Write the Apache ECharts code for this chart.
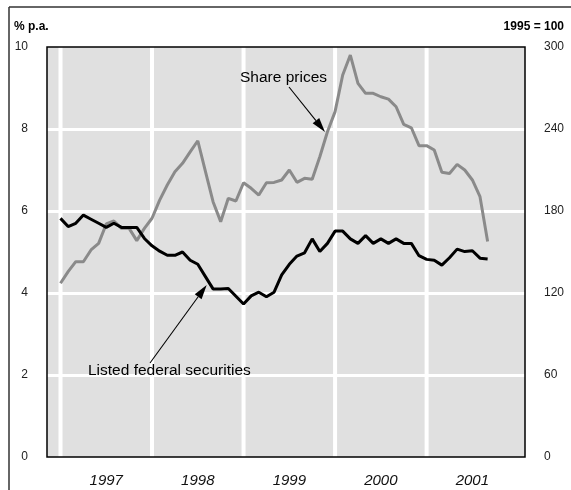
<!DOCTYPE html>
<html>
<head>
<meta charset="utf-8">
<script src="https://cdn.jsdelivr.net/npm/echarts@6/dist/echarts.min.js"></script>
<style>
html,body{margin:0;padding:0;background:#fff;}
#chart{width:571px;height:490px;}
</style>
</head>
<body>
<div id="chart"></div>
<script>
// Monthly observations, Jan 1997 (index 0) to Sep 2001 (index 56)
const federalYield = [5.82,5.62,5.70,5.90,5.80,5.70,5.60,5.70,5.60,5.60,5.60,5.33,
  5.15,5.02,4.92,4.92,5.00,4.80,4.70,4.40,4.10,4.10,4.11,3.92,
  3.73,3.93,4.02,3.91,4.02,4.44,4.70,4.90,4.98,5.32,5.01,5.21,
  5.51,5.51,5.32,5.21,5.40,5.21,5.32,5.21,5.32,5.21,5.21,4.91,
  4.82,4.80,4.68,4.86,5.07,5.01,5.03,4.85,4.83];
const sharePrices = [127.1,135.6,142.9,142.9,151.5,156.3,170.5,172.7,167.3,167.3,158.3,167.3,
  174.7,188.0,199.0,208.8,214.9,223.2,231.4,209.0,186.8,172.2,189.3,187.3,
  200.7,196.6,191.7,200.7,200.9,202.7,210.0,201.0,203.9,203.2,219.7,238.0,
  252.7,279.5,294.1,273.4,266.1,266.1,263.6,261.9,256.3,243.4,240.9,227.8,
  227.8,224.6,208.3,207.5,214.1,210.0,202.7,190.5,157.6];
const yearLabels = ['1997','1998','1999','2000','2001'];
const yearStarts = [0,12,24,36,48];      // month index where each year begins
const yearMids = [6,18,30,42,54];        // month index where each year label sits
const leftTicks = [0,2,4,6,8,10];
const rightTicks = [0,60,120,180,240,300];

const W = 571, H = 490;
const G = {left:47, top:47, right:46, bottom:33};
const FONT = '"Liberation Sans", Arial, Helvetica, sans-serif';

const chart = echarts.init(document.getElementById('chart'), null, {renderer:'canvas'});

function arrow(x1,y1,x2,y2){
  const dx=x2-x1, dy=y2-y1, L=Math.sqrt(dx*dx+dy*dy);
  const ux=dx/L, uy=dy/L, hl=14.5, hw=4.2;
  const bx=x2-ux*hl, by=y2-uy*hl;
  return [
    {type:'line', z:100, shape:{x1:x1,y1:y1,x2:bx,y2:by}, style:{stroke:'#000', lineWidth:1.1}},
    {type:'polygon', z:100, shape:{points:[[x2,y2],[bx-uy*hw,by+ux*hw],[bx+uy*hw,by-ux*hw]]}, style:{fill:'#000'}}
  ];
}

const option = {
  animation:false,
  backgroundColor:'#fff',
  grid:{left:G.left, top:G.top, right:G.right, bottom:G.bottom, show:true, backgroundColor:'#e0e0e0', borderWidth:0, containLabel:false},
  xAxis:{
    type:'value', min:-1.77, max:60.9,
    axisLine:{show:false}, axisTick:{show:false}, splitLine:{show:false},
    axisLabel:{
      customValues:yearMids, margin:16,
      formatter:function(v){ const i=yearMids.indexOf(Math.round(v)); return i>=0?yearLabels[i]:''; },
      fontFamily:FONT, fontSize:15, fontStyle:'italic', color:'#111'
    }
  },
  yAxis:[
    {type:'value', min:0, max:10, interval:2, position:'left',
      axisLine:{show:false}, axisTick:{show:false},
      axisLabel:{margin:19, fontFamily:FONT, fontSize:12, color:'#222',
        formatter:function(v){return leftTicks.indexOf(v)>=0?String(v):'';}},
      splitLine:{show:true, showMinLine:false, showMaxLine:false, lineStyle:{color:'#fff', width:3}}
    },
    {type:'value', min:0, max:300, interval:60, position:'right',
      axisLine:{show:false}, axisTick:{show:false},
      axisLabel:{margin:19, fontFamily:FONT, fontSize:12, color:'#222',
        formatter:function(v){return rightTicks.indexOf(v)>=0?String(v):'';}},
      splitLine:{show:false}
    }
  ],
  series:[
    {
      type:'custom', z:1, silent:true, yAxisIndex:0,
      data:yearStarts.map(v=>[v]),
      encode:{x:0},
      renderItem:function(params, api){
        const x = api.coord([api.value(0), 0])[0];
        const cs = params.coordSys;
        return {type:'line', shape:{x1:x, y1:cs.y, x2:x, y2:cs.y+cs.height}, style:{stroke:'#fff', lineWidth:4}};
      }
    },
    {
      name:'Share prices', type:'line', yAxisIndex:1, z:3,
      data:sharePrices.map((v,i)=>[i,v]),
      symbol:'none', lineStyle:{color:'#8a8a8a', width:3}
    },
    {
      name:'Listed federal securities', type:'line', yAxisIndex:0, z:4,
      data:federalYield.map((v,i)=>[i,v]),
      symbol:'none', lineStyle:{color:'#000', width:3}
    }
  ],
  graphic:[
    {type:'rect', z:100, shape:{x:G.left, y:G.top, width:W-G.left-G.right, height:H-G.top-G.bottom}, style:{fill:'none', stroke:'#000', lineWidth:1.5}},
    {type:'line', z:100, shape:{x1:9,y1:7,x2:W,y2:7}, style:{stroke:'#333', lineWidth:1.5}},
    {type:'line', z:100, shape:{x1:9,y1:7,x2:9,y2:H}, style:{stroke:'#333', lineWidth:1.5}},
    {type:'text', z:100, x:14, y:27, style:{text:'% p.a.', font:'bold 12px '+FONT, fill:'#000', textVerticalAlign:'middle'}},
    {type:'text', z:100, x:564, y:27, style:{text:'1995 = 100', font:'bold 12px '+FONT, fill:'#000', textAlign:'right', textVerticalAlign:'middle'}},
    {type:'text', z:100, x:240, y:78, style:{text:'Share prices', font:'15.5px '+FONT, fill:'#000', textVerticalAlign:'middle'}},
    {type:'text', z:100, x:88, y:371, style:{text:'Listed federal securities', font:'15.5px '+FONT, fill:'#000', textVerticalAlign:'middle'}}
  ].concat(arrow(289,87,325,132)).concat(arrow(150,363,206.7,285))
};
chart.setOption(option);
</script>
</body>
</html>
